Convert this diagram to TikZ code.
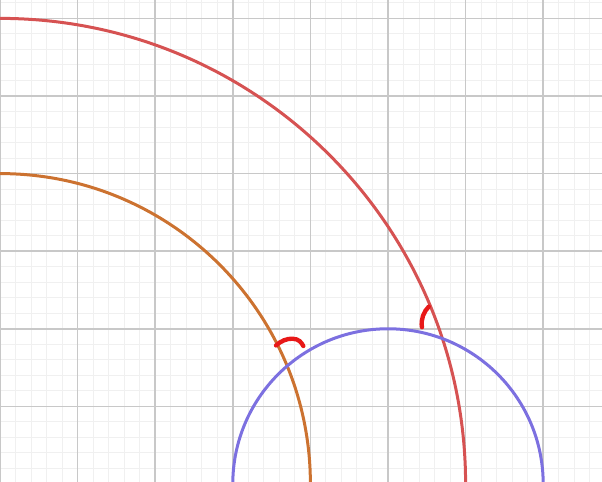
\documentclass[tikz,border=0pt]{standalone}
\usepackage{tikz}
\usetikzlibrary{positioning}

\definecolor{gridminor}{RGB}{240,240,240}
\definecolor{gridmajor}{RGB}{200,200,200}
\definecolor{circred}{RGB}{214,82,82}
\definecolor{circorange}{RGB}{204,114,48}
\definecolor{circpurple}{RGB}{124,112,224}
\definecolor{markred}{RGB}{232,24,24}

\begin{document}
\begin{tikzpicture}[
    minorgrid/.style={draw=gridminor, line width=0.35pt},
    majorgrid/.style={draw=gridmajor, line width=0.55pt},
    curve/.style={line width=1.1pt},
    marker/.style={draw=markred, line width=1.6pt, line cap=round}
]
\useasboundingbox (0,0.026) rectangle (7.758,6.237);
\clip (0,0.026) rectangle (7.758,6.237);

% grid
\draw[minorgrid] (0,0) grid[step=0.2] (8,6.4);
\draw[majorgrid] (0,0) grid[step=1] (8,6.4);

% circles
\coordinate (origin) at (0,0);
\coordinate (centre) at (5,0);
\draw[curve, draw=circorange] (origin) circle[radius=4];
\draw[curve, draw=circred] (origin) circle[radius=6];
\draw[curve, draw=circpurple] (centre) circle[radius=2];

% angle marks
\draw[marker] (3.557,1.785) .. controls (3.62,1.845) and (3.70,1.875) .. (3.77,1.872)
    .. controls (3.85,1.868) and (3.88,1.83) .. (3.909,1.778);
\draw[marker] (5.438,2.02) .. controls (5.42,2.12) and (5.46,2.22) .. (5.525,2.285);
\end{tikzpicture}
\end{document}
